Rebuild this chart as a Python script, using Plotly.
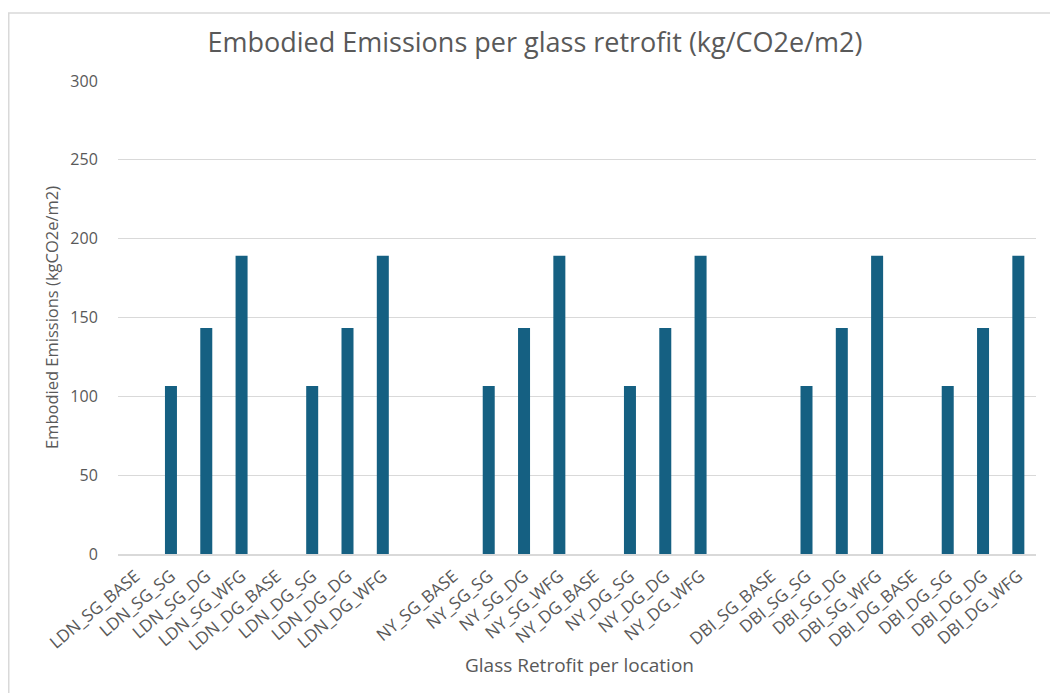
import plotly.graph_objects as go

categories = [
    "LDN_SG_BASE", "LDN_SG_SG", "LDN_SG_DG", "LDN_SG_WFG",
    "LDN_DG_BASE", "LDN_DG_SG", "LDN_DG_DG", "LDN_DG_WFG",
    " ",
    "NY_SG_BASE", "NY_SG_SG", "NY_SG_DG", "NY_SG_WFG",
    "NY_DG_BASE", "NY_DG_SG", "NY_DG_DG", "NY_DG_WFG",
    "  ",
    "DBI_SG_BASE", "DBI_SG_SG", "DBI_SG_DG", "DBI_SG_WFG",
    "DBI_DG_BASE", "DBI_DG_SG", "DBI_DG_DG", "DBI_DG_WFG",
]
values = [
    0, 106.5, 143.3, 189.2,
    0, 106.5, 143.3, 189.2,
    None,
    0, 106.5, 143.3, 189.2,
    0, 106.5, 143.3, 189.2,
    None,
    0, 106.5, 143.3, 189.2,
    0, 106.5, 143.3, 189.2,
]
y_ticks = [0, 50, 100, 150, 200, 250, 300]

FONT = "Open Sans"
GREY = "#595959"

# plot area in figure pixels (page body adds an 8px offset)
L, T, PW, PH = 110, 73, 918, 473
W, H = 1058, 693

fig = go.Figure(go.Bar(
    x=categories, y=values,
    marker=dict(color="#156082", line=dict(width=0)),
    width=0.34,
))

fig.update_layout(
    width=W, height=H,
    margin=dict(l=L, r=W - L - PW, t=T, b=H - T - PH, autoexpand=False),
    paper_bgcolor="white", plot_bgcolor="white",
    showlegend=False,
    font=dict(family=FONT, color=GREY),
    title=dict(
        text="Embodied Emissions per glass retrofit (kg/CO2e/m2)",
        x=527 / W, xanchor="center", y=1 - 35 / H, yanchor="middle",
        font=dict(family=FONT, size=27, color=GREY),
    ),
    xaxis=dict(
        type="category", tickangle=-40,
        tickfont=dict(size=17, color=GREY),
        showgrid=False, showline=True, linecolor="#D9D9D9", linewidth=1.5,
        ticks="outside", ticklen=4, tickcolor="rgba(0,0,0,0)",
        automargin=False,
    ),
    yaxis=dict(
        range=[0, 300], tickvals=y_ticks,
        tickfont=dict(size=16, color=GREY),
        showgrid=True, gridcolor="#D9D9D9", gridwidth=1.2,
        zeroline=False, showline=False,
        ticks="outside", ticklen=16, tickcolor="rgba(0,0,0,0)",
        automargin=False,
        title=dict(text="Embodied Emissions (kgCO2e/m2)",
                   font=dict(size=16.5, color=GREY), standoff=7),
    ),
    annotations=[dict(
        text="Glass Retrofit per location",
        xref="paper", yref="paper",
        x=(571 - L) / PW, y=(T + PH - 657) / PH,
        xanchor="center", yanchor="middle", showarrow=False,
        font=dict(family=FONT, size=19, color=GREY),
    )],
    shapes=[dict(
        type="rect", xref="paper", yref="paper",
        x0=(0.75 - L) / PW, x1=1.2,
        y0=-0.5, y1=(T + PH - 5) / PH,
        line=dict(color="#D9D9D9", width=1.5), fillcolor="rgba(0,0,0,0)",
        layer="below",
    )],
)

fig.write_html("out.html")
